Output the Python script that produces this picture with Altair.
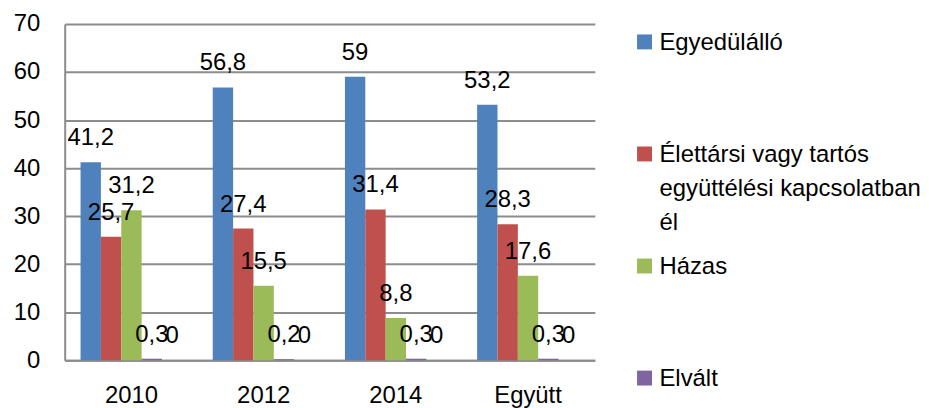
import altair as alt
import pandas as pd

groups = ["2010", "2012", "2014", "Együtt"]
series = ["Egyedülálló", "Élettársi vagy tartós együttélési kapcsolatban él", "Házas", "Elvált", "Özvegy"]
legend_labels = ["Egyedülálló", "Élettársi vagy tartós\negyüttélési kapcsolatban\nél", "Házas", "Elvált"]
colors = ["#4F81BD", "#C0504D", "#9BBB59", "#8064A2", "#4BACC6"]

egyedulallo = [41.2, 56.8, 59, 53.2]
elettarsi = [25.7, 27.4, 31.4, 28.3]
hazas = [31.2, 15.5, 8.8, 17.6]
elvalt = [0.3, 0.2, 0.3, 0.3]
ozvegy = [0, 0, 0, 0]
y_ticks = [0, 10, 20, 30, 40, 50, 60, 70]

values = [egyedulallo, elettarsi, hazas, elvalt, ozvegy]
rows = []
for s, vals in zip(series, values):
    for g, v in zip(groups, vals):
        rows.append({"group": g, "series": s, "value": v,
                     "label": f"{v:g}".replace(".", ",")})
df = pd.DataFrame(rows)

FONT = "Liberation Sans"
GRID = "#8c8c8c"

color = alt.Color("series:N", scale=alt.Scale(domain=series, range=colors), legend=None)

base = alt.Chart(df).encode(
    x=alt.X("group:N", sort=groups, title=None,
            scale=alt.Scale(paddingInner=0.23, paddingOuter=0.12),
            axis=alt.Axis(labelAngle=0, labelPadding=24, ticks=False, grid=False,
                          domainColor=GRID, domainWidth=2)),
    xOffset=alt.XOffset("series:N", sort=series,
                        scale=alt.Scale(paddingInner=0, paddingOuter=0)),
    y=alt.Y("value:Q", title=None, scale=alt.Scale(domain=[0, 70], nice=False),
            axis=alt.Axis(values=y_ticks, ticks=False, labelPadding=25, grid=True,
                          gridColor=GRID, gridWidth=2, domainColor=GRID, domainWidth=2)),
)
bars = base.mark_bar().encode(color=color)
labels = base.mark_text(dy=-24, fontSize=24, color="black", font=FONT).encode(text="label:N")
main = alt.layer(bars, labels).properties(width=533, height=338)

leg_df = pd.DataFrame({"series": series[:4], "label": legend_labels})
leg_base = alt.Chart(leg_df).encode(
    y=alt.Y("series:N", sort=series[:4], axis=None,
            scale=alt.Scale(type="point", padding=0))
)
squares = leg_base.mark_square(size=225, opacity=1, yOffset=18).encode(
    x=alt.value(8), color=color)
texts = leg_base.mark_text(align="left", baseline="alphabetic", lineBreak="\n",
                           lineHeight=34, fontSize=24, dy=26, color="black",
                           font=FONT).encode(x=alt.value(23), text="label:N")
legend = alt.layer(squares, texts).properties(width=260, height=338)

chart = alt.hconcat(main, legend, spacing=42).properties(
    padding={"left": 5, "top": 3, "right": 0, "bottom": 0}
).configure_view(strokeWidth=0).configure_axis(
    labelFontSize=24, labelColor="black", labelFont=FONT
)

chart.save("out.html", embed_options={"renderer": "svg", "actions": False})
